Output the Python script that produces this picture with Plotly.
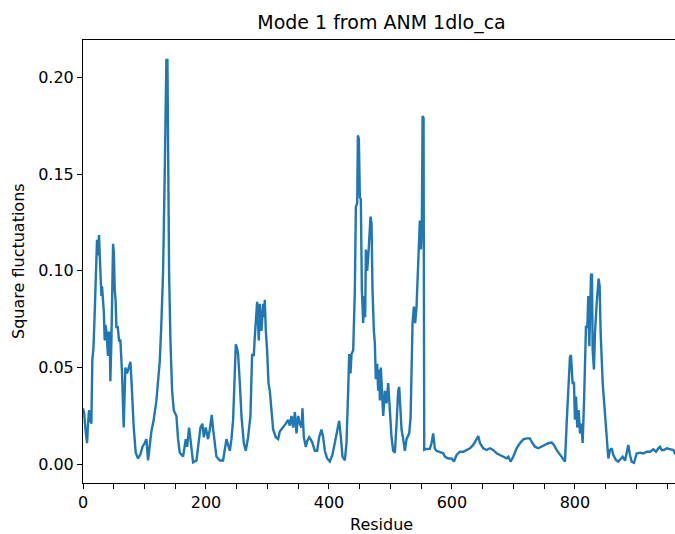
import plotly.graph_objects as go

# Residue index and square fluctuation values
residue = [
    0, 2, 4, 6.6, 8, 9.8, 11, 13.6, 15.2, 17, 19.0, 20.7, 22, 22.8, 24, 26.1, 27, 28.3, 29.9, 31,
    32.6, 34, 35.3, 36.5, 38.0, 39.5, 40.7, 42, 43.4, 44.5, 46.2, 48.9, 50.2, 51.6, 53, 54.3, 56.5,
    58.6, 60.8, 63.5, 66.2, 68.9, 71.6, 74.4, 77.1, 78.7, 80.3, 82.5, 85.7, 89.5, 93.3, 96.6, 100.4,
    103.1, 105.8, 108.5, 111.2, 115.0, 119.4, 122.6, 124.8, 127.5, 130.2, 132.9, 134.0, 135.6, 137.3,
    138.4, 140.0, 142.2, 144.9, 147.6, 151.9, 154.6, 157.3, 162.8, 167.1, 169.3, 172.5, 174.7, 179.0,
    184.5, 188.8, 191.0, 194.2, 196.4, 199.6, 203.4, 206.2, 209.4, 211.6, 214.3, 217.0, 222.4, 227.8,
    233.3, 236.5, 238.7, 241.4, 244.1, 246.8, 248.5, 250.5, 252.2,
    255.0, 257.7, 261.5, 264.7, 268.5, 272.3, 275.0, 277.7, 279.4, 282.1, 283.2, 285.9, 287.5, 290.2,
    292.9, 294.6, 295.6, 297.3, 299.4, 301.6, 303.8, 306.5, 309.2, 313.5, 317.3, 320.0, 325.5, 329.8,
    333.6, 336.3, 339.0, 341.7, 344.5, 347.2, 349.9, 352.6, 355.3, 356.9, 359.1, 362.4, 364.5, 367.8,
    370.0, 373.2, 377.0, 380.8, 384.0, 387.8, 390.5, 393.3, 397.1, 401.4, 405.7, 409.5, 413.3, 416.6,
    419.3, 422.0, 425.8, 428.5,
    431.2, 432.9, 435.0, 436.7, 439.4, 442.1, 443.7, 445.9, 447.0, 448.6, 450.2, 451.8, 453.5, 455.6,
    457.3, 458.9, 460.0, 462.1, 463.8, 465.4, 467.6, 469.2, 470.8, 473.0, 474.6, 476.2, 478.4, 480.0,
    481.7, 482.8, 484.4, 486.6, 488.2, 490.9, 493.6, 496.3, 499.0, 501.7, 504.4, 507.2, 509.9, 512.6,
    514.2, 516.4, 518.0, 520.7, 523.4, 526.1, 530.5, 532.7, 535.9, 538.1, 540.2, 542.4, 544.6, 546.7,
    547.8, 549.5, 551.1, 552.2, 553.8, 554.9, 558.7, 564.1, 566.8, 569.5, 572.2, 574.9, 580.4, 585.8,
    588.5, 593.9, 599.4, 603.2, 607.5, 612.9, 618.3, 623.8, 629.2, 634.6, 640.0, 642.8, 645.5, 650.9,
    656.3, 661.7, 667.1, 672.6, 678.0, 683.4, 688.8, 691.6, 695.4, 699.7, 705.1, 710.5, 716.0, 721.4,
    726.8, 729.5, 734.9, 740.4, 745.8, 751.2, 756.6, 762.1, 765.9, 770.2, 775.6, 781.0, 783.8, 786.5,
    789.2, 791.9, 793.5,
    795.2, 796.2, 798.4, 800.0, 801.7, 803.8, 806.0, 808.2, 810.3, 812.5, 814.7, 816.8, 817.9, 820.1,
    821.7, 823.4, 824.4, 826.1, 827.7, 828.8, 830.9, 832.6, 835.3, 836.9, 838.5, 840.2, 841.8, 845.1,
    848.9, 851.6, 854.3, 857.0, 859.7, 862.4, 866.7, 870.5, 873.3, 877.6, 881.4, 885.2, 886.8, 889.5,
    892.2, 896.0, 900.3, 905.8, 911.2, 916.6, 922.1, 927.5, 931.8, 935.6, 938.3, 941.0, 944.8, 949.2,
    954.6, 960.0, 962.7, 970.0,
]

fluctuation = [
    0.029, 0.026, 0.018, 0.011, 0.020, 0.028, 0.024, 0.021, 0.054, 0.060, 0.078, 0.097, 0.100, 0.116,
    0.108, 0.1185, 0.110, 0.099, 0.087, 0.092, 0.085, 0.078, 0.064, 0.072, 0.069, 0.058, 0.056, 0.068,
    0.068, 0.043, 0.064, 0.114, 0.109, 0.090, 0.085, 0.071, 0.071, 0.064, 0.064, 0.047, 0.019, 0.050,
    0.047, 0.050, 0.053, 0.044, 0.033, 0.019, 0.006, 0.003, 0.005, 0.009, 0.011, 0.013, 0.002, 0.009,
    0.017, 0.023, 0.033, 0.045, 0.053, 0.073, 0.099, 0.150, 0.169, 0.209, 0.209, 0.150, 0.099, 0.064,
    0.038, 0.028, 0.025, 0.013, 0.006, 0.004, 0.013, 0.009, 0.019, 0.013, 0.001, 0.002, 0.013, 0.019,
    0.021, 0.014, 0.019, 0.013, 0.018, 0.0255, 0.018, 0.011, 0.004, 0.002, 0.002, 0.013, 0.009, 0.007,
    0.013, 0.023, 0.047, 0.062, 0.060, 0.057,
    0.042, 0.025, 0.011, 0.007, 0.014, 0.025, 0.057, 0.056, 0.066, 0.076, 0.084, 0.064, 0.083, 0.069,
    0.083, 0.076, 0.085, 0.069, 0.059, 0.042, 0.038, 0.028, 0.018, 0.014, 0.013, 0.017, 0.019, 0.021,
    0.023, 0.020, 0.025, 0.019, 0.027, 0.016, 0.025, 0.021, 0.019, 0.029, 0.014, 0.009, 0.012, 0.014,
    0.013, 0.011, 0.007, 0.007, 0.014, 0.018, 0.014, 0.007, 0.003, 0.0015, 0.005, 0.011, 0.018, 0.0225,
    0.014, 0.004, 0.002, 0.011,
    0.038, 0.057, 0.047, 0.057, 0.059, 0.090, 0.133, 0.135, 0.170, 0.168, 0.138, 0.137, 0.090, 0.073,
    0.087, 0.076, 0.111, 0.100, 0.107, 0.119, 0.128, 0.1245, 0.090, 0.069, 0.0625, 0.044, 0.052, 0.038,
    0.049, 0.033, 0.050, 0.035, 0.025, 0.038, 0.0315, 0.042, 0.026, 0.014, 0.007, 0.006, 0.021, 0.038,
    0.040, 0.028, 0.018, 0.013, 0.007, 0.013, 0.016, 0.024, 0.073, 0.0815, 0.073, 0.0815, 0.097, 0.111,
    0.126, 0.111, 0.1245, 0.180, 0.179, 0.0075, 0.008, 0.008, 0.011, 0.016, 0.008, 0.007, 0.0065, 0.0057,
    0.004, 0.003, 0.003, 0.0014, 0.0048, 0.0065, 0.0065, 0.0074, 0.0083, 0.010, 0.0126, 0.0146, 0.011,
    0.0083, 0.0074, 0.0083, 0.0074, 0.0057, 0.0048, 0.0039, 0.0031, 0.0039, 0.0014, 0.0039, 0.0083,
    0.0109, 0.0129, 0.0134, 0.0134, 0.0117, 0.0091, 0.0083, 0.0091, 0.010, 0.0109, 0.0112, 0.010, 0.0074,
    0.0048, 0.0022, 0.0014, 0.021, 0.038, 0.0556, 0.0565,
    0.047, 0.042, 0.042, 0.023, 0.035, 0.019, 0.028, 0.016, 0.021, 0.011, 0.0315, 0.059, 0.071, 0.071,
    0.087, 0.061, 0.0815, 0.098, 0.098, 0.059, 0.049, 0.068, 0.083, 0.0935, 0.096, 0.092, 0.068, 0.042,
    0.025, 0.013, 0.003, 0.0074, 0.0083, 0.0048, 0.0022, 0.0014, 0.0022, 0.0039, 0.0019, 0.0074, 0.010,
    0.0048, 0.0014, 0.0008, 0.0056, 0.006, 0.0056, 0.0065, 0.0065, 0.0078, 0.0065, 0.0083, 0.0091,
    0.0074, 0.0074, 0.0083, 0.0078, 0.0074, 0.0056, 0.006,
]

y_tick_vals = [0.0, 0.05, 0.10, 0.15, 0.20]
y_tick_text = ["0.00", "0.05", "0.10", "0.15", "0.20"]
x_tick_vals = [0, 200, 400, 600, 800]
x_tick_text = ["0", "200", "400", "600", "800"]

title_text = "Mode 1 from ANM 1dlo_ca"
x_label = "Residue"
y_label = "Square fluctuations"

FONT = "DejaVu Sans"
W, H = 675, 534
ML, MR, MT, MB = 83, 0, 40, 51

fig = go.Figure()
fig.add_trace(go.Scatter(
    x=residue, y=fluctuation, mode="lines",
    line=dict(color="#1f77b4", width=2.4),
    showlegend=False, hoverinfo="skip",
))

plot_w = W - ML - MR
plot_h = H - MT - MB

fig.update_layout(
    width=W, height=H,
    margin=dict(l=ML, r=MR, t=MT, b=MB, pad=0),
    paper_bgcolor="white", plot_bgcolor="white",
    font=dict(family=FONT, size=16, color="black"),
    title=dict(
        text=title_text, font=dict(family=FONT, size=19, color="black"),
        x=381.5 / W, xanchor="center", xref="container",
        y=1 - 22.5 / H, yanchor="middle", yref="container",
    ),
    xaxis=dict(
        range=[0, 962.7], showgrid=False, zeroline=False,
        showline=True, linecolor="black", linewidth=1, mirror=True,
        ticks="outside", ticklen=5, tickwidth=1, tickcolor="black",
        tickvals=x_tick_vals, ticktext=x_tick_text,
        tickfont=dict(family=FONT, size=16, color="black"),
        minor=dict(dtick=50, tick0=0, ticks="outside", ticklen=5, tickwidth=1, tickcolor="black", showgrid=False),
    ),
    yaxis=dict(
        range=[-0.00966, 0.2193], showgrid=False, zeroline=False,
        showline=True, linecolor="black", linewidth=1, mirror=False,
        ticks="outside", ticklen=5, tickwidth=1, tickcolor="black",
        tickvals=y_tick_vals, ticktext=y_tick_text,
        tickfont=dict(family=FONT, size=16, color="black"),
    ),
    annotations=[
        dict(text=x_label, xref="paper", yref="paper",
             x=(381.5 - ML) / plot_w, y=-(524 - (H - MB)) / plot_h,
             xanchor="center", yanchor="middle", showarrow=False,
             font=dict(family=FONT, size=16, color="black")),
        dict(text=y_label, xref="paper", yref="paper",
             x=(18.5 - ML) / plot_w, y=0.5, textangle=-90,
             xanchor="center", yanchor="middle", showarrow=False,
             font=dict(family=FONT, size=16, color="black")),
    ],
)

fig.write_html("out.html")
